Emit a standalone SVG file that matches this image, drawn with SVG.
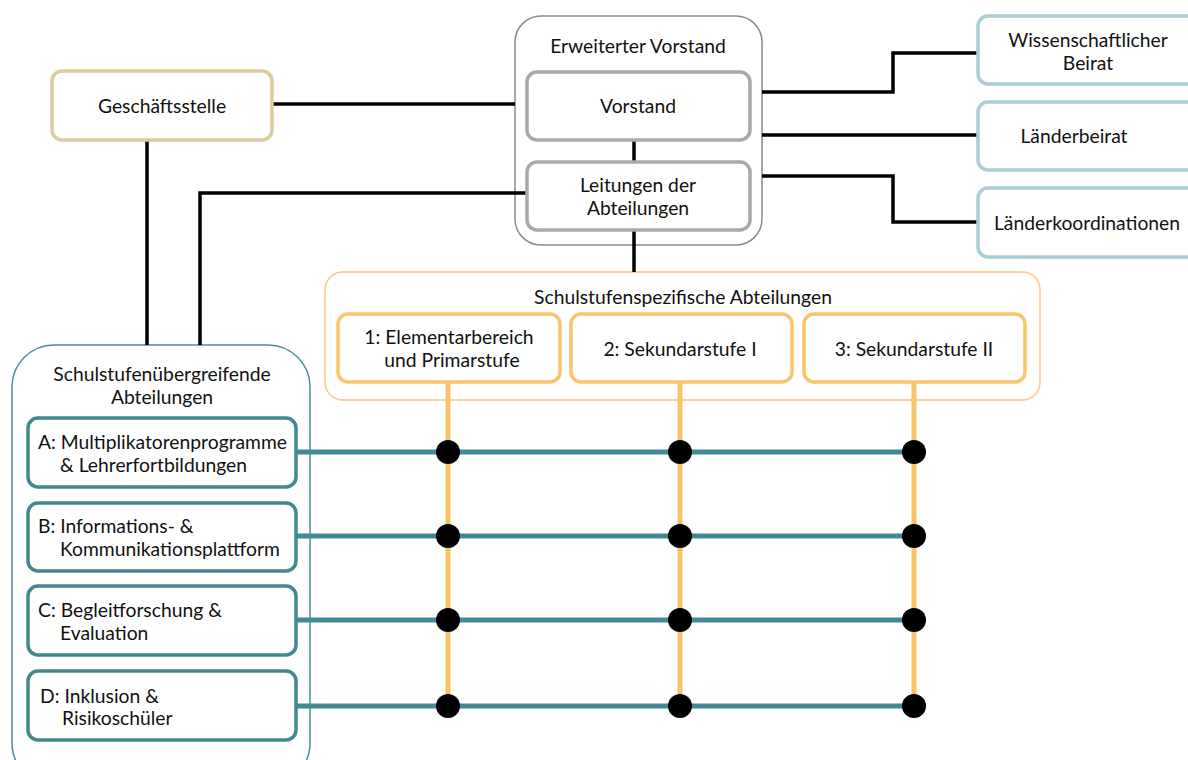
<svg xmlns="http://www.w3.org/2000/svg" width="1188" height="760" viewBox="0 0 1188 760">
<style>
text{font-family:Lato,"Open Sans","Liberation Sans",sans-serif;font-size:19.3px;fill:#111;}
.c{text-anchor:middle;}
.gray{fill:#fff;stroke:#a9a9a9;stroke-width:3.5;}
.outer{fill:#fff;stroke:#8a8a8a;stroke-width:1.5;}
.tan{fill:#fff;stroke:#dccb9c;stroke-width:3.5;}
.lteal{fill:#fff;stroke:#a8cdd3;stroke-width:3.5;}
.oc{fill:#fff;stroke:#f9c980;stroke-width:1.5;}
.ob{fill:#fff;stroke:#f8c56c;stroke-width:3.5;}
.tc{fill:#fff;stroke:#4a8f98;stroke-width:1.5;}
.tb{fill:#fff;stroke:#41898f;stroke-width:3.5;}
.bl{stroke:#000;stroke-width:3.5;fill:none;}
.ov{stroke:#f8c467;stroke-width:5;fill:none;}
.th{stroke:#428a93;stroke-width:5;fill:none;}
.dot{fill:#000;}
</style>
<g id="containers">
<g id="erweiterter-vorstand"><rect class="outer" x="515" y="16" width="247" height="229" rx="26"/><text class="c" x="638" y="53">Erweiterter Vorstand</text></g>
<g id="schulstufenspezifisch"><rect class="oc" x="325" y="272" width="715" height="128" rx="18"/><text class="c" x="683" y="304">Schulstufenspezifische Abteilungen</text></g>
<g id="schulstufenuebergreifend"><rect class="tc" x="12" y="345" width="298" height="440" rx="42"/><text class="c" x="162" y="381">Schulstufenübergreifende</text><text class="c" x="162" y="404">Abteilungen</text></g>
</g>
<g id="connectors">
<path class="bl" d="M272 104H515"/>
<path class="bl" d="M147 140V345"/>
<path class="bl" d="M527 193H200V345"/>
<path class="bl" d="M634 140V162"/>
<path class="bl" d="M634 230V272"/>
<path class="bl" d="M762 92H893V53H978"/>
<path class="bl" d="M762 135H978"/>
<path class="bl" d="M762 176H893V222H978"/>
<path class="ov" d="M448 382V716M680 382V716M914 382V716"/>
<path class="th" d="M296 452H914M296 536H914M296 620H914M296 706H914"/>
<g class="dot">
<circle cx="448" cy="452" r="12"/><circle cx="680" cy="452" r="12"/><circle cx="914" cy="452" r="12"/>
<circle cx="448" cy="536" r="12"/><circle cx="680" cy="536" r="12"/><circle cx="914" cy="536" r="12"/>
<circle cx="448" cy="620" r="12"/><circle cx="680" cy="620" r="12"/><circle cx="914" cy="620" r="12"/>
<circle cx="448" cy="706" r="12"/><circle cx="680" cy="706" r="12"/><circle cx="914" cy="706" r="12"/>
</g>
</g>
<g id="vorstand"><rect class="gray" x="527" y="72" width="223" height="68" rx="10"/><text class="c" x="638" y="113">Vorstand</text></g>
<g id="leitungen"><rect class="gray" x="527" y="162" width="223" height="68" rx="10"/><text class="c" x="638" y="192">Leitungen der</text><text class="c" x="638" y="215">Abteilungen</text></g>
<g id="geschaeftsstelle"><rect class="tan" x="52" y="71" width="220" height="69" rx="10"/><text class="c" x="162" y="113">Geschäftsstelle</text></g>
<g id="wiss-beirat"><rect class="lteal" x="978" y="16" width="222" height="68" rx="10"/><text class="c" x="1088" y="47">Wissenschaftlicher</text><text class="c" x="1088" y="70">Beirat</text></g>
<g id="laenderbeirat"><rect class="lteal" x="978" y="102" width="222" height="68" rx="10"/><text class="c" x="1074" y="143">Länderbeirat</text></g>
<g id="laenderkoordinationen"><rect class="lteal" x="978" y="188" width="222" height="69" rx="10"/><text class="c" x="1087" y="230">Länderkoordinationen</text></g>
<g id="stufe1"><rect class="ob" x="338" y="314" width="222" height="68" rx="10"/><text class="c" x="449" y="344">1: Elementarbereich</text><text class="c" x="452" y="367">und Primarstufe</text></g>
<g id="stufe2"><rect class="ob" x="571" y="314" width="221" height="68" rx="10"/><text class="c" x="680" y="356">2: Sekundarstufe I</text></g>
<g id="stufe3"><rect class="ob" x="804" y="314" width="221" height="68" rx="10"/><text class="c" x="914" y="356">3: Sekundarstufe II</text></g>
<g id="abt-a"><rect class="tb" x="28" y="418" width="268" height="69" rx="10"/><text x="38" y="449">A: Multiplikatorenprogramme</text><text x="60" y="472">&amp; Lehrerfortbildungen</text></g>
<g id="abt-b"><rect class="tb" x="28" y="503" width="268" height="68" rx="10"/><text x="38" y="533">B: Informations- &amp;</text><text x="60" y="556">Kommunikationsplattform</text></g>
<g id="abt-c"><rect class="tb" x="28" y="586" width="268" height="69" rx="10"/><text x="38" y="617">C: Begleitforschung &amp;</text><text x="60" y="640">Evaluation</text></g>
<g id="abt-d"><rect class="tb" x="28" y="671" width="268" height="69" rx="10"/><text x="40" y="703">D: Inklusion &amp;</text><text x="62" y="725">Risikoschüler</text></g>
</svg>
